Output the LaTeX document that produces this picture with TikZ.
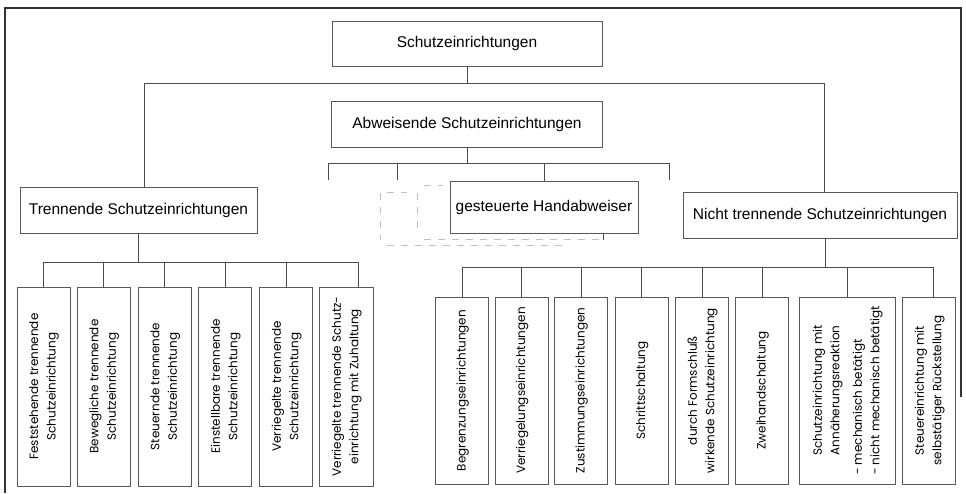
\documentclass[tikz,border=0pt]{standalone}
\usepackage{fontspec}
\setmainfont{Liberation Sans}
\newfontfamily\leaffont{Poppins}
\usepackage{graphicx}
\usepackage{tikz}
\usetikzlibrary{calc}

\newcommand{\vtext}[1]{\rotatebox{90}{\begin{tabular}{@{}c@{}}#1\end{tabular}}}

\begin{document}
\begin{tikzpicture}[
x=1pt, y=1pt,
HB/.style={rectangle, draw=black!65, line width=0.6pt, fill=white, inner sep=0pt,
minimum height=46pt, font=\fontsize{15.5}{18}\selectfont},
LB/.style={rectangle, draw=black!65, line width=0.6pt, fill=white, inner sep=0pt,
minimum width=53pt, font=\leaffont\fontsize{12}{17.5}\selectfont},
C1/.style={draw=black!70, line width=0.6pt},
]
	\useasboundingbox (0,0) rectangle (966,-493);
	% frame
	\draw[line width=1.3pt, black!80] (5,-493) -- (5,-8) -- (961,-8) -- (961,-397);

	\node[
	HB, 
	minimum width=270pt, 
	minimum height=45pt,
	] (SE) 
	at (467,-43.5)
	{Schutzeinrichtungen};
	\node[
	HB, 
	minimum width=271pt, 
	] (AS) 
	at ($ (SE) + (0,-80.5) $)
	{Abweisende Schutzeinrichtungen};
	\node[
	HB, 
	minimum width=188pt, 
	minimum height=52pt,
	] (GH) 
	at (544,-207)
	{gesteuerte Handabweiser};
	\node[
	HB, 
	minimum width=237pt, 
	] (TS) 
	at (138.5,-210)
	{Trennende Schutzeinrichtungen};
	\node[
	HB, 
	minimum width=274pt, 
	] (NTS) 
	at (820,-215)
	{Nicht trennende Schutzeinrichtungen};

	% trennende
	\node[LB, minimum height=199pt] (FT) 
	at (43.5,-386.5)
	{\vtext{Feststehende trennende\\Schutzeinrichtung}};
	\node[LB, minimum height=199pt] (BT) 
	at ($ (FT) + (60,0) $)
	{\vtext{Bewegliche trennende\\Schutzeinrichtung}};
	\node[LB, minimum height=199pt] (ST) 
	at ($ (BT) + (61,0) $)
	{\vtext{Steuernde trennende\\Schutzeinrichtung}};
	\node[LB, minimum height=199pt] (ET) 
	at ($ (ST) + (60.5,0) $)
	{\vtext{Einstellbare trennende\\Schutzeinrichtung}};
	\node[LB, minimum height=199pt] (VT) 
	at ($ (ET) + (61,0) $)
	{\vtext{Verriegelte trennende\\Schutzeinrichtung}};
	\node[LB, minimum height=199pt, minimum width=54pt] (VZ) 
	at ($ (VT) + (60,0) $)
	{\vtext{Verriegelte trennende Schutz-\\einrichtung mit Zuhaltung}};

	% nicht trennende
	\node[LB, minimum height=187pt] (BG) 
	at (462,-390.5)
	{\vtext{Begrenzungseinrichtungen}};
	\node[LB, minimum height=187pt] (VG) 
	at ($ (BG) + (59.5,0) $)
	{\vtext{Verriegelungseinrichtungen}};
	\node[LB, minimum height=187pt] (ZG) 
	at ($ (VG) + (59.5,0) $)
	{\vtext{Zustimmungseinrichtungen}};
	\node[LB, minimum height=187pt] (SS) 
	at ($ (ZG) + (60.5,0) $)
	{\vtext{Schrittschaltung}};
	\node[LB, minimum height=187pt] (FS) 
	at ($ (SS) + (60.5,0) $)
	{\vtext{durch Formschluß\\wirkende Schutzeinrichtung}};
	\node[LB, minimum height=187pt] (ZH) 
	at ($ (FS) + (60,0) $)
	{\vtext{Zweihandschaltung}};
	\node[LB, minimum height=187pt, minimum width=96pt] (SA) 
	at ($ (ZH) + (85,0) $)
	{\vtext{Schutzeinrichtung mit\\Annäherungsreaktion\\[5pt]
	\begin{tabular}{@{}l@{}}- mechanisch betätigt\\- nicht mechanisch betätigt\end{tabular}}};
	\node[LB, minimum height=187pt] (SR) 
	at ($ (SA) + (82,0) $)
	{\vtext{Steuereinrichtung mit\\selbstätiger Rückstellung}};

	% connectors
	\draw[C1] (SE.south) -- ++(0,-17) coordinate (B0);
	\draw[C1] ($ (TS.north) + (5.5,0) $) |- (B0) -| ($ (NTS.north) + (4,0) $);

	\draw[C1] (AS.south) -- ++(0,-16) coordinate (B1);
	\coordinate (A1) at (328,-180);
	\coordinate (A2) at (397,-180);
	\coordinate (A4) at (669,-180);
	\draw[C1] (A1) |- (B1) -| (A4);
	\draw[C1] (A2) -- (A2 |- B1);
	\draw[C1] (GH.north) -- (GH.north |- B1);
	\draw[C1] ($ (GH.south) + (59,0) $) -- ++(0,-7);

	\draw[C1] (TS.south) -- ++(0,-29) coordinate (B2);
	\draw[C1] (FT.north) |- (B2) -| ($ (VZ.north) + (12,0) $);
	\foreach \n in {BT,ST,ET,VT}
		\draw[C1] (\n.north) -- (\n.north |- B2);

	\draw[C1] ($ (NTS.south) + (5,0) $) -- ++(0,-29) coordinate (B3);
	\draw[C1] (BG.north) |- (B3) -| ($ (SR.north) + (4,0) $);
	\foreach \n in {VG,ZG,SS,FS,ZH,SA}
		\draw[C1] (\n.north) -- (\n.north |- B3);

	% faint traces
	\begin{scope}[black!25, line width=0.5pt, dash pattern=on 7pt off 7pt]
	\draw (380,-193) -- (380,-240);
	\draw (417,-193) -- (417,-232);
	\draw (387,-192) -- (407,-192);
	\draw (424,-185) -- (443,-185);
	\draw (424,-239) -- (600,-239);
	\draw (387,-245) -- (567,-245);
	\end{scope}
\end{tikzpicture}
\end{document}
